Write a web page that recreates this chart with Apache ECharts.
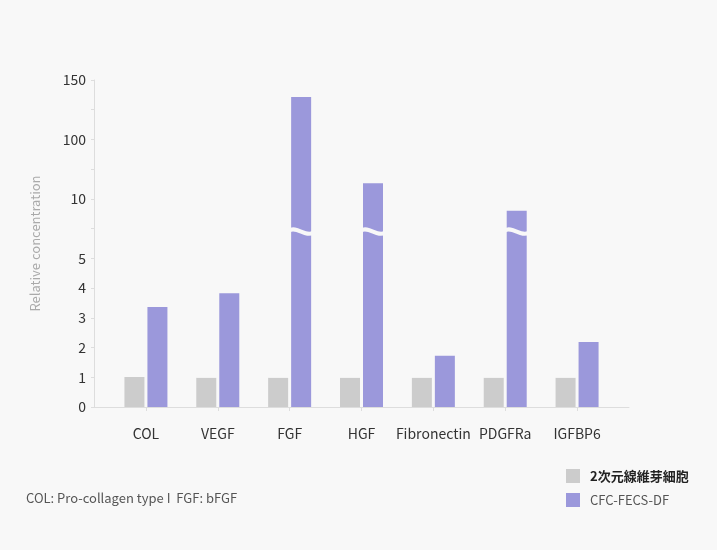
<!DOCTYPE html>
<html>
<head>
<meta charset="utf-8">
<script src="https://cdn.jsdelivr.net/npm/echarts@6/dist/echarts.min.js"></script>
<style>html,body{margin:0;padding:0;background:#f8f8f8;}#c{width:717px;height:550px;}</style>
</head>
<body>
<div id="c"></div>
<script>
const categories = ['COL', 'VEGF', 'FGF', 'HGF', 'Fibronectin', 'PDGFRa', 'IGFBP6'];
const fibroblast = [1.01, 0.98, 0.98, 0.98, 0.98, 0.98, 0.98];
const cfcFecsDf = [3.36, 3.83, 135.7, 18.3, 1.72, 8.7, 2.19];
const tickLabels = ['0', '1', '2', '3', '4', '5', '', '10', '', '100', '', '150'];
const seriesNames = ['2次元線維芽細胞', 'CFC-FECS-DF'];

// broken axis: 0-5 linear, 5-10 and 10-100 logarithmic, 100-150 linear
function toV(r) {
  if (r <= 5) return r;
  if (r <= 10) return 5 + 2 * Math.log2(r / 5);
  if (r <= 100) return 7 + 2 * Math.log10(r / 10);
  return 9 + 2 * (r - 100) / 50;
}
const BREAK_V = 5.9;
const BAR_W = 20, BAR_GAP = 3;
const FONT = '"Noto Sans CJK JP", "Noto Sans", sans-serif';

const breaks = [];
cfcFecsDf.forEach((r, i) => { if (r > 5 && toV(r) > BREAK_V + 0.3) breaks.push([i, BREAK_V]); });

const chart = echarts.init(document.getElementById('c'));
chart.setOption({
  backgroundColor: '#f8f8f8',
  textStyle: { fontFamily: FONT },
  title: {
    text: 'COL: Pro-collagen type I  FGF: bFGF',
    left: 21, top: 487,
    textStyle: { fontSize: 13, fontWeight: 'normal', color: '#555', fontFamily: FONT }
  },
  legend: {
    orient: 'vertical', left: 561, top: 464,
    itemWidth: 14, itemHeight: 14, itemGap: 10,
    icon: 'rect',
    data: [
      { name: seriesNames[0], textStyle: { fontWeight: 'bold', color: '#222' } },
      { name: seriesNames[1], textStyle: { color: '#555' } }
    ],
    textStyle: { fontSize: 13, fontFamily: FONT, padding: [0, 0, 0, 5] }
  },
  grid: [
    { left: 110, right: 104, top: 80, bottom: 143 },
    { left: 94, right: 88, top: 80, bottom: 143 }
  ],
  xAxis: [
    {
      type: 'category', data: categories, gridIndex: 0,
      axisLine: { show: false },
      axisTick: { show: true, alignWithLabel: true, length: 4, lineStyle: { color: '#ddd' } },
      axisLabel: { color: '#333', fontSize: 14, margin: 20, interval: 0, fontFamily: FONT }
    },
    {
      type: 'value', gridIndex: 1, min: 0, max: 1,
      axisLine: { show: true, lineStyle: { color: '#ddd' } },
      axisTick: { show: false }, axisLabel: { show: false }, splitLine: { show: false }
    }
  ],
  yAxis: [
    {
      type: 'value', gridIndex: 0, min: 0, max: 11, interval: 1, offset: 16,
      name: 'Relative concentration', nameLocation: 'middle', nameGap: 52,
      nameTextStyle: { color: '#aaa', fontSize: 13, fontFamily: FONT },
      axisLine: { show: true, lineStyle: { color: '#ddd' } },
      axisTick: { show: true, length: 3, lineStyle: { color: '#ddd' } },
      axisLabel: { color: '#333', fontSize: 14, margin: 8, fontFamily: FONT,
        formatter: v => tickLabels[Math.round(v)] },
      splitLine: { show: false }
    },
    { type: 'value', gridIndex: 1, show: false, min: 0, max: 1 }
  ],
  series: [
    {
      name: seriesNames[0], type: 'bar', barWidth: BAR_W, barGap: (BAR_GAP / BAR_W * 100) + '%',
      itemStyle: { color: '#cccccc' }, data: fibroblast.map(toV), silent: true
    },
    {
      name: seriesNames[1], type: 'bar', barWidth: BAR_W,
      itemStyle: { color: '#9b98db' }, data: cfcFecsDf.map(toV), silent: true
    },
    {
      type: 'custom', silent: true, z: 10,
      data: breaks,
      renderItem: function (params, api) {
        const p = api.coord([api.value(0), api.value(1)]);
        const cx = p[0] + (BAR_W + BAR_GAP) / 2;
        const x0 = cx - BAR_W / 2 - 2, x1 = cx + BAR_W / 2 + 2, y = p[1];
        const w = x1 - x0;
        return {
          type: 'path',
          shape: {
            pathData: 'M' + x0 + ' ' + (y - 1) +
              ' C' + (x0 + w * 0.3) + ' ' + (y - 6) + ' ' + (x0 + w * 0.7) + ' ' + (y + 6) + ' ' + x1 + ' ' + (y + 1)
          },
          style: { fill: null, stroke: '#f8f8f8', lineWidth: 4 }
        };
      }
    }
  ]
});
</script>
</body>
</html>
